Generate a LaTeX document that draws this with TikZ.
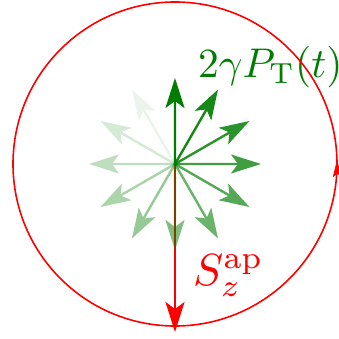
\documentclass[tikz,border=0pt]{standalone}
\usepackage{amsmath}
\usepackage{graphicx}
\usetikzlibrary{arrows.meta,decorations.markings,calc}
\definecolor{dgreen}{RGB}{0,125,0}
\tikzset{
  bigtip/.style={-{Stealth[length=30pt,width=19pt,inset=7pt]}},
  spinarrow/.style={bigtip, line width=2.4pt, draw=dgreen, fill=dgreen},
  redarrow/.style={bigtip, line width=2.4pt, draw=red, fill=red},
  orbit/.style={draw=red, line width=1.6pt,
    postaction={decorate},
    decoration={markings, mark=at position 0.004 with {\arrow[red]{Stealth[length=17pt,width=9pt,inset=3pt]}}}},
  biglabel/.style={inner sep=0pt, anchor=base west}
}
\begin{document}
\begin{tikzpicture}[x=1pt,y=1pt]
\useasboundingbox (0,0) rectangle (339,338);
\coordinate (o) at (175,174);
\coordinate (s) at (175,6);
\draw[redarrow] (o) -- (s);
\foreach \k in {0,...,11}{
  \pgfmathsetmacro{\op}{(12-\k)/12}
  \coordinate (g\k) at ($(o)+({90-30*\k}:86pt)$);
  \begin{scope}[transparency group, opacity=\op]
    \draw[spinarrow] (o) -- (g\k);
  \end{scope}
}
\node[biglabel, text=dgreen] (pt) at (198,261) {\scalebox{4.15}{$2\gamma P_{\mathrm{T}}(t)$}};
\node[biglabel, text=red] (sz) at (193,53) {\scalebox{4.5}{$S_z^{\mathrm{ap}}$}};
\draw[orbit] (o) circle[radius=162pt];
\end{tikzpicture}
\end{document}
